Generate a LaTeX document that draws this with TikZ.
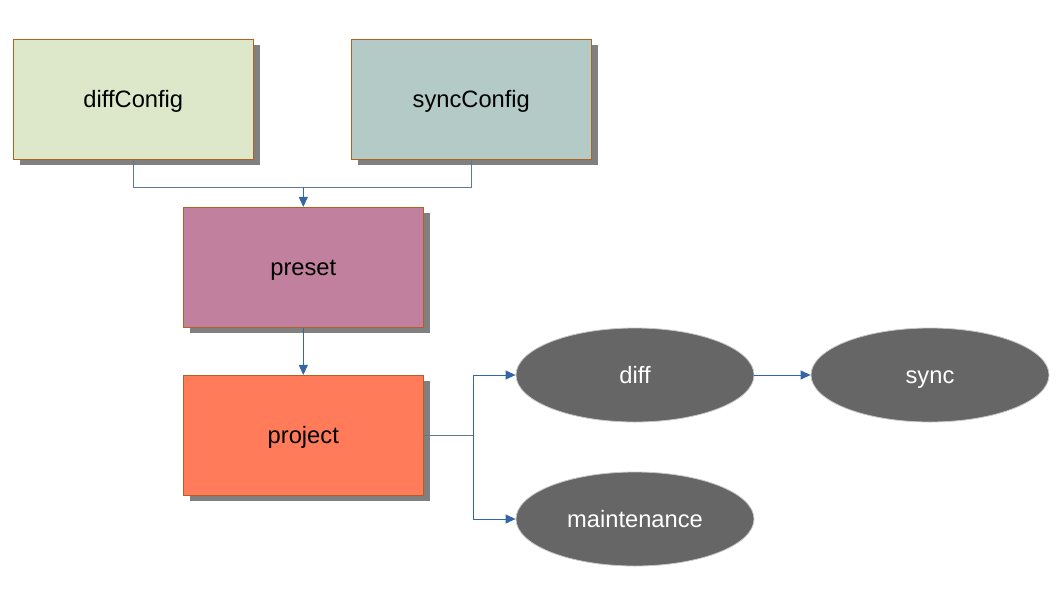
\documentclass[tikz,border=0pt]{standalone}
\usepackage{fontspec}
\setmainfont{Liberation Sans}
\usetikzlibrary{arrows.meta,shapes.geometric}
\definecolor{boxline}{HTML}{B0621E}
\definecolor{conn}{HTML}{3465A4}
\definecolor{shadowc}{HTML}{808080}
\definecolor{cdiffcfg}{HTML}{DDE8CB}
\definecolor{csynccfg}{HTML}{B3CAC7}
\definecolor{cpreset}{HTML}{C0809E}
\definecolor{cproject}{HTML}{FF7B59}
\definecolor{cell}{HTML}{666666}
\begin{document}
\begin{tikzpicture}[x=1pt,y=-1pt,
  box/.style={draw=boxline,line width=0.8pt,minimum width=240pt,minimum height=120pt,inner sep=0pt,
    text height=17pt,text depth=0pt,font=\fontsize{23.7}{28}\selectfont,text=black},
  shadowbox/.style={fill=shadowc,draw=none},
  oval/.style={ellipse,fill=cell,draw=gray!45,line width=0.8pt,minimum width=238pt,minimum height=94pt,inner sep=0pt,
    text height=16pt,text depth=0pt,font=\fontsize{23.7}{28}\selectfont,text=white},
  conn/.style={draw=conn,line width=0.9pt,-{Triangle[length=10pt,width=9pt]}},
  plain/.style={draw=conn!60!black!70,line width=0.8pt}]
\useasboundingbox (0,0) rectangle (1058,595);
% shadows
\fill[shadowbox] (20,45) rectangle (260,165);
\fill[shadowbox] (358,45) rectangle (598,165);
\fill[shadowbox] (190,213) rectangle (430,333);
\fill[shadowbox] (190,381) rectangle (430,501);
% boxes
\node[box,fill=cdiffcfg] (dc) at (133.3,99.3) {diffConfig};
\node[box,fill=csynccfg] (sc) at (471.3,99.3) {syncConfig};
\node[box,fill=cpreset] (pr) at (303.3,267.3) {preset};
\node[box,fill=cproject] (pj) at (303.3,435.3) {project};
% ellipses
\node[oval] (df) at (635,375) {diff};
\node[oval] (sy) at (930,375) {sync};
\node[oval] (mt) at (635,519) {maintenance};
% connectors
\coordinate (j1) at (303.3,187);
\coordinate (j2) at (473,435.3);
\draw[plain] (dc.south) |- (j1);
\draw[plain] (sc.south) |- (j1);
\draw[conn] (j1) -- (pr.north);
\draw[conn] (pr.south) -- (pj.north);
\draw[plain] (pj.east) -- (j2);
\draw[conn] (j2) |- (df.west);
\draw[conn] (j2) |- (mt.west);
\draw[conn] (df.east) -- (sy.west);
\end{tikzpicture}
\end{document}
